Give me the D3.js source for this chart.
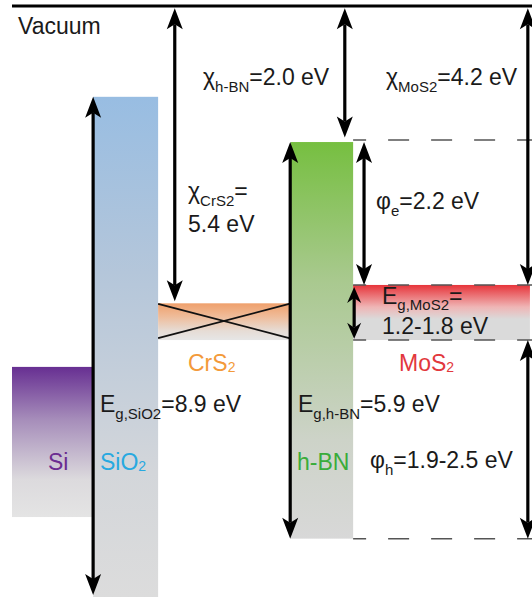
<!DOCTYPE html>
<html>
<head>
<meta charset="utf-8">
<script src="https://cdn.jsdelivr.net/npm/d3@7"></script>
<style>
body{margin:0;background:#fff}
text{font-family:"Liberation Sans",Arial,sans-serif;font-size:23px;fill:#1a1a1a}
</style>
</head>
<body>
<svg id="chart" width="532" height="599"></svg>
<script>
// schematic band diagram: levels are depths below vacuum (drawn units), x in layer units
const materials = ["Si", "SiO2", "CrS2", "hBN", "MoS2"];
const layerStart = [0, 15.6, 28.1, 53.6, 65.6];
const layerEnd = [15.4, 28.1, 53.3, 65.6, 99.6];
const bandTop = [5.49, 1.37, 4.52, 2.06, 4.24];
const bandBottom = [7.78, 9.0, 5.08, 8.11, 5.08];

// double arrows
const arrowX = [15.6, 31.3, 53.5, 64.0, 67.7, 65.8, 99.2, 99.2];
const arrowFrom = [1.37, 0.02, 2.06, 0.02, 2.06, 4.27, 0.02, 5.08];
const arrowTo = [8.97, 4.49, 8.11, 1.99, 4.24, 5.06, 4.24, 8.11];
const arrowSmall = [false, false, false, false, false, true, false, false];

// dashed reference levels to the right of h-BN
const dashLevels = [2.03, 4.24, 5.08, 8.11];

const colors = {
  Si: ["#672f92", "#a68dba", "#dcdadd", "#e4e4e4"],
  SiO2: ["#98bde2", "#b4c6da", "#d3d6da", "#dcdcdc"],
  CrS2: ["#efa06c", "#efbb98", "#e6dcd5", "#e6e6e6"],
  hBN: ["#76bf40", "#a9c98f", "#cdd3c8", "#d8d8d8"],
  MoS2: ["#e7343a", "#efb5b5", "#dadada", "#dadada"]
};
const stops = [0, 0.35, 0.75, 1];

const svg = d3.select("#chart");
const x = d3.scaleLinear().domain([0, 100]).range([12, 532]);
const y = d3.scaleLinear().domain([0, 9]).range([7, 597]);

const defs = svg.append("defs");
materials.forEach(m => {
  const g = defs.append("linearGradient").attr("id", "g-" + m)
    .attr("x1", 0).attr("y1", 0).attr("x2", 0).attr("y2", 1);
  const st = m === "MoS2" ? [0, 0.4, 0.62, 1] : stops;
  colors[m].forEach((c, i) => g.append("stop").attr("offset", st[i]).attr("stop-color", c));
});

// bands
svg.selectAll("rect.band").data(materials).join("rect")
  .attr("class", "band")
  .attr("x", (d, i) => x(layerStart[i]))
  .attr("width", (d, i) => x(layerEnd[i]) - x(layerStart[i]))
  .attr("y", (d, i) => y(bandTop[i]))
  .attr("height", (d, i) => y(bandBottom[i]) - y(bandTop[i]))
  .attr("fill", d => `url(#g-${d})`);

// vacuum level
svg.append("line")
  .attr("x1", x(0)).attr("x2", x(100))
  .attr("y1", y(0) - 1).attr("y2", y(0) - 1)
  .attr("stroke", "#000").attr("stroke-width", 3);

// dashed lines
svg.selectAll("line.dash").data(dashLevels).join("line")
  .attr("x1", x(65.6)).attr("x2", x(100))
  .attr("y1", d => y(d)).attr("y2", d => y(d))
  .attr("stroke", "#555").attr("stroke-width", 1.5)
  .attr("stroke-dasharray", "21,22").attr("stroke-dashoffset", 8);

// CrS2 cross
const ci = 2;
svg.append("line")
  .attr("x1", x(layerStart[ci])).attr("y1", y(4.53))
  .attr("x2", x(layerEnd[ci])).attr("y2", y(5.05))
  .attr("stroke", "#111").attr("stroke-width", 1.8);
svg.append("line")
  .attr("x1", x(layerStart[ci])).attr("y1", y(5.05))
  .attr("x2", x(layerEnd[ci])).attr("y2", y(4.53))
  .attr("stroke", "#111").attr("stroke-width", 1.8);

// arrows
const head = (tx, ty, dir, w, l, n) =>
  `M${tx},${ty} L${tx - w / 2},${ty + dir * l} L${tx},${ty + dir * (l - n)} L${tx + w / 2},${ty + dir * l} Z`;

arrowX.forEach((ax, i) => {
  const px = x(ax), y1 = y(arrowFrom[i]), y2 = y(arrowTo[i]);
  const w = arrowSmall[i] ? 14 : 16, l = arrowSmall[i] ? 16 : 21, n = 5;
  svg.append("line")
    .attr("x1", px).attr("x2", px)
    .attr("y1", y1 + l - n).attr("y2", y2 - l + n)
    .attr("stroke", "#000").attr("stroke-width", 3.2);
  svg.append("path").attr("d", head(px, y1, 1, w, l, n)).attr("fill", "#000");
  svg.append("path").attr("d", head(px, y2, -1, w, l, n)).attr("fill", "#000");
});

// labels: parts are [text, kind] with kind m=main, s=subscript, c=chemical subscript
const labels = [
  {x: 18, y: 34, parts: [["Vacuum", "m"]]},
  {x: 203, y: 85, parts: [["χ", "m"], ["h-BN", "s"], ["=2.0 eV", "m"]]},
  {x: 386, y: 85, parts: [["χ", "m"], ["MoS2", "s"], ["=4.2 eV", "m"]]},
  {x: 188, y: 199, parts: [["χ", "m"], ["CrS2", "s"], ["=", "m"]]},
  {x: 188, y: 232, parts: [["5.4 eV", "m"]]},
  {x: 376, y: 209, parts: [["φ", "m"], ["e", "s"], ["=2.2 eV", "m"]]},
  {x: 382, y: 304, sub: 6, parts: [["E", "m"], ["g,MoS2", "s"], ["=", "m"]]},
  {x: 382, y: 334, parts: [["1.2-1.8 eV", "m"]]},
  {x: 188, y: 371, fill: "#f39a3a", parts: [["CrS", "m"], ["2", "c"]]},
  {x: 399, y: 371, fill: "#e2383d", parts: [["MoS", "m"], ["2", "c"]]},
  {x: 100, y: 412, parts: [["E", "m"], ["g,SiO2", "s"], ["=8.9 eV", "m"]]},
  {x: 298, y: 412, parts: [["E", "m"], ["g,h-BN", "s"], ["=5.9 eV", "m"]]},
  {x: 48, y: 470, fill: "#6b2c91", parts: [["Si", "m"]]},
  {x: 100, y: 470, fill: "#28a9e0", parts: [["SiO", "m"], ["2", "c"]]},
  {x: 297, y: 470, fill: "#3aac3a", parts: [["h-BN", "m"]]},
  {x: 370, y: 468, parts: [["φ", "m"], ["h", "s"], ["=1.9-2.5 eV", "m"]]}
];

labels.forEach(lb => {
  const t = svg.append("text").attr("x", lb.x).attr("y", lb.y);
  if (lb.fill) t.style("fill", lb.fill);
  let shift = 0;
  lb.parts.forEach(([txt, kind]) => {
    const target = kind === "s" ? (lb.sub || 7) : kind === "c" ? 1 : 0;
    t.append("tspan")
      .attr("dy", target - shift)
      .style("font-size", kind === "s" ? "15px" : kind === "c" ? "14px" : "23px")
      .text(txt);
    shift = target;
  });
});
</script>
</body>
</html>
